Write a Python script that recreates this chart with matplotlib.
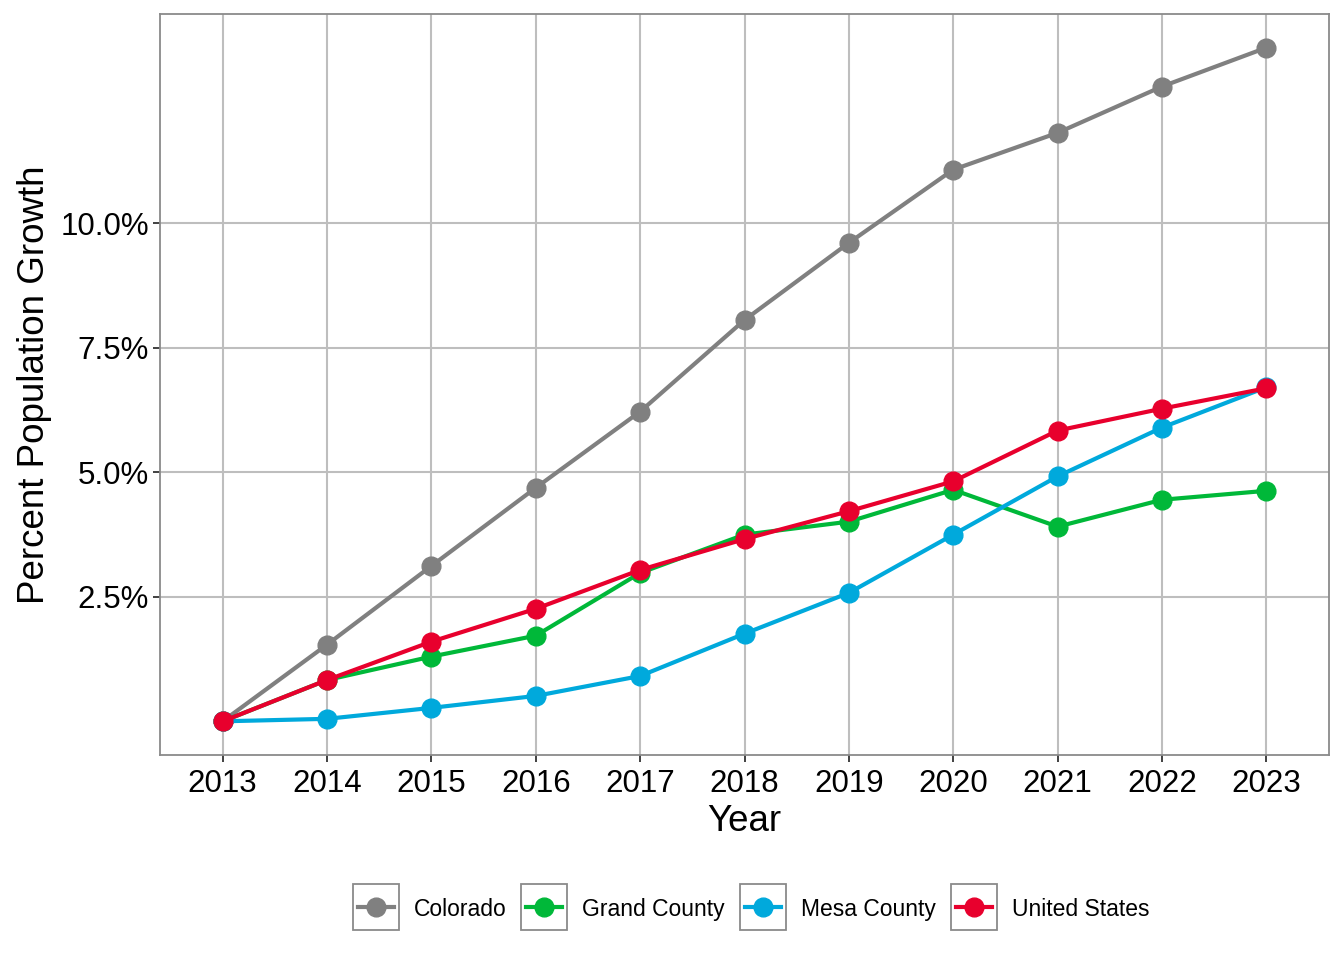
import matplotlib
matplotlib.use("Agg")
import matplotlib.pyplot as plt
from matplotlib.patches import Rectangle
from matplotlib.lines import Line2D
import numpy as np

plt.rcParams['font.family'] = ['Liberation Sans', 'DejaVu Sans']

years = [2013, 2014, 2015, 2016, 2017, 2018, 2019, 2020, 2021, 2022, 2023]
colorado = [0, 1.54, 3.12, 4.69, 6.22, 8.06, 9.61, 11.08, 11.82, 12.75, 13.53]
grand = [0, 0.83, 1.30, 1.72, 2.98, 3.75, 4.01, 4.65, 3.91, 4.45, 4.63]
mesa = [0, 0.05, 0.27, 0.51, 0.91, 1.76, 2.58, 3.75, 4.92, 5.90, 6.71]
usa = [0, 0.83, 1.60, 2.26, 3.04, 3.66, 4.22, 4.82, 5.84, 6.28, 6.69]

names = ['Colorado', 'Grand County', 'Mesa County', 'United States']
colors = ['#808080', '#00B839', '#00A9DC', '#E8002D']
series = [colorado, grand, mesa, usa]
yticks = [2.5, 5.0, 7.5, 10.0]

fig = plt.figure(figsize=(13.44, 9.6), dpi=100)
ax = fig.add_axes([160/1344, 1-755/960, (1329-160)/1344, (755-14)/960])

for vals, col in zip(series, colors):
    ax.plot(years, vals, color=col, lw=3.0, marker='o', ms=13.5, zorder=3)

ax.set_xlim(2012.4, 2023.6)
ymax = max(colorado)
ax.set_ylim(-0.05*ymax, ymax*1.05)
ax.set_xticks(years)
ax.set_xticklabels([str(y) for y in years])
ax.set_yticks(yticks)
ax.set_yticklabels(['%.1f%%' % v for v in yticks])
ax.grid(True, color='#BEBEBE', lw=1.5, zorder=0)
ax.set_axisbelow(True)
for s in ax.spines.values():
    s.set_color('#8A8A8A')
    s.set_linewidth(1.3)
ax.tick_params(axis='both', length=5, width=1.3, color='#333333',
               labelsize=22.5, labelcolor='black')
ax.tick_params(axis='x', pad=5)
ax.tick_params(axis='y', pad=3)
ax.set_xlabel('Year', fontsize=26.5, labelpad=4)
ax.set_ylabel('Percent Population Growth', fontsize=26.5, labelpad=6)

# legend at bottom with boxed keys
fig.canvas.draw()
r = fig.canvas.get_renderer()
W, H = 1344, 960
box = 46
gap = 15
yc = 907
texts = []
widths = []
for n in names:
    t = fig.text(0, 0, n, fontsize=16.5, va='center_baseline')
    widths.append(t.get_window_extent(r).width)
    texts.append(t)
total = sum(box + gap + w for w in widths) + gap * (len(names) - 1)
x = 751 - total / 2
for t, w, col in zip(texts, widths, colors):
    fig.add_artist(Rectangle((x / W, (H - yc - box / 2) / H), box / W, box / H,
                             transform=fig.transFigure, fill=False,
                             edgecolor='#8A8A8A', lw=1.3))
    fig.add_artist(Line2D([(x + 5) / W, (x + box - 5) / W], [(H - yc) / H] * 2,
                          transform=fig.transFigure, color=col, lw=3.0))
    fig.add_artist(Line2D([(x + box / 2) / W], [(H - yc) / H],
                          transform=fig.transFigure, color=col, marker='o',
                          ms=13.5, lw=0))
    t.set_position(((x + box + gap) / W, (H - yc) / H))
    x += box + gap + w + gap

fig.savefig('out.png', dpi=100, facecolor='white')
